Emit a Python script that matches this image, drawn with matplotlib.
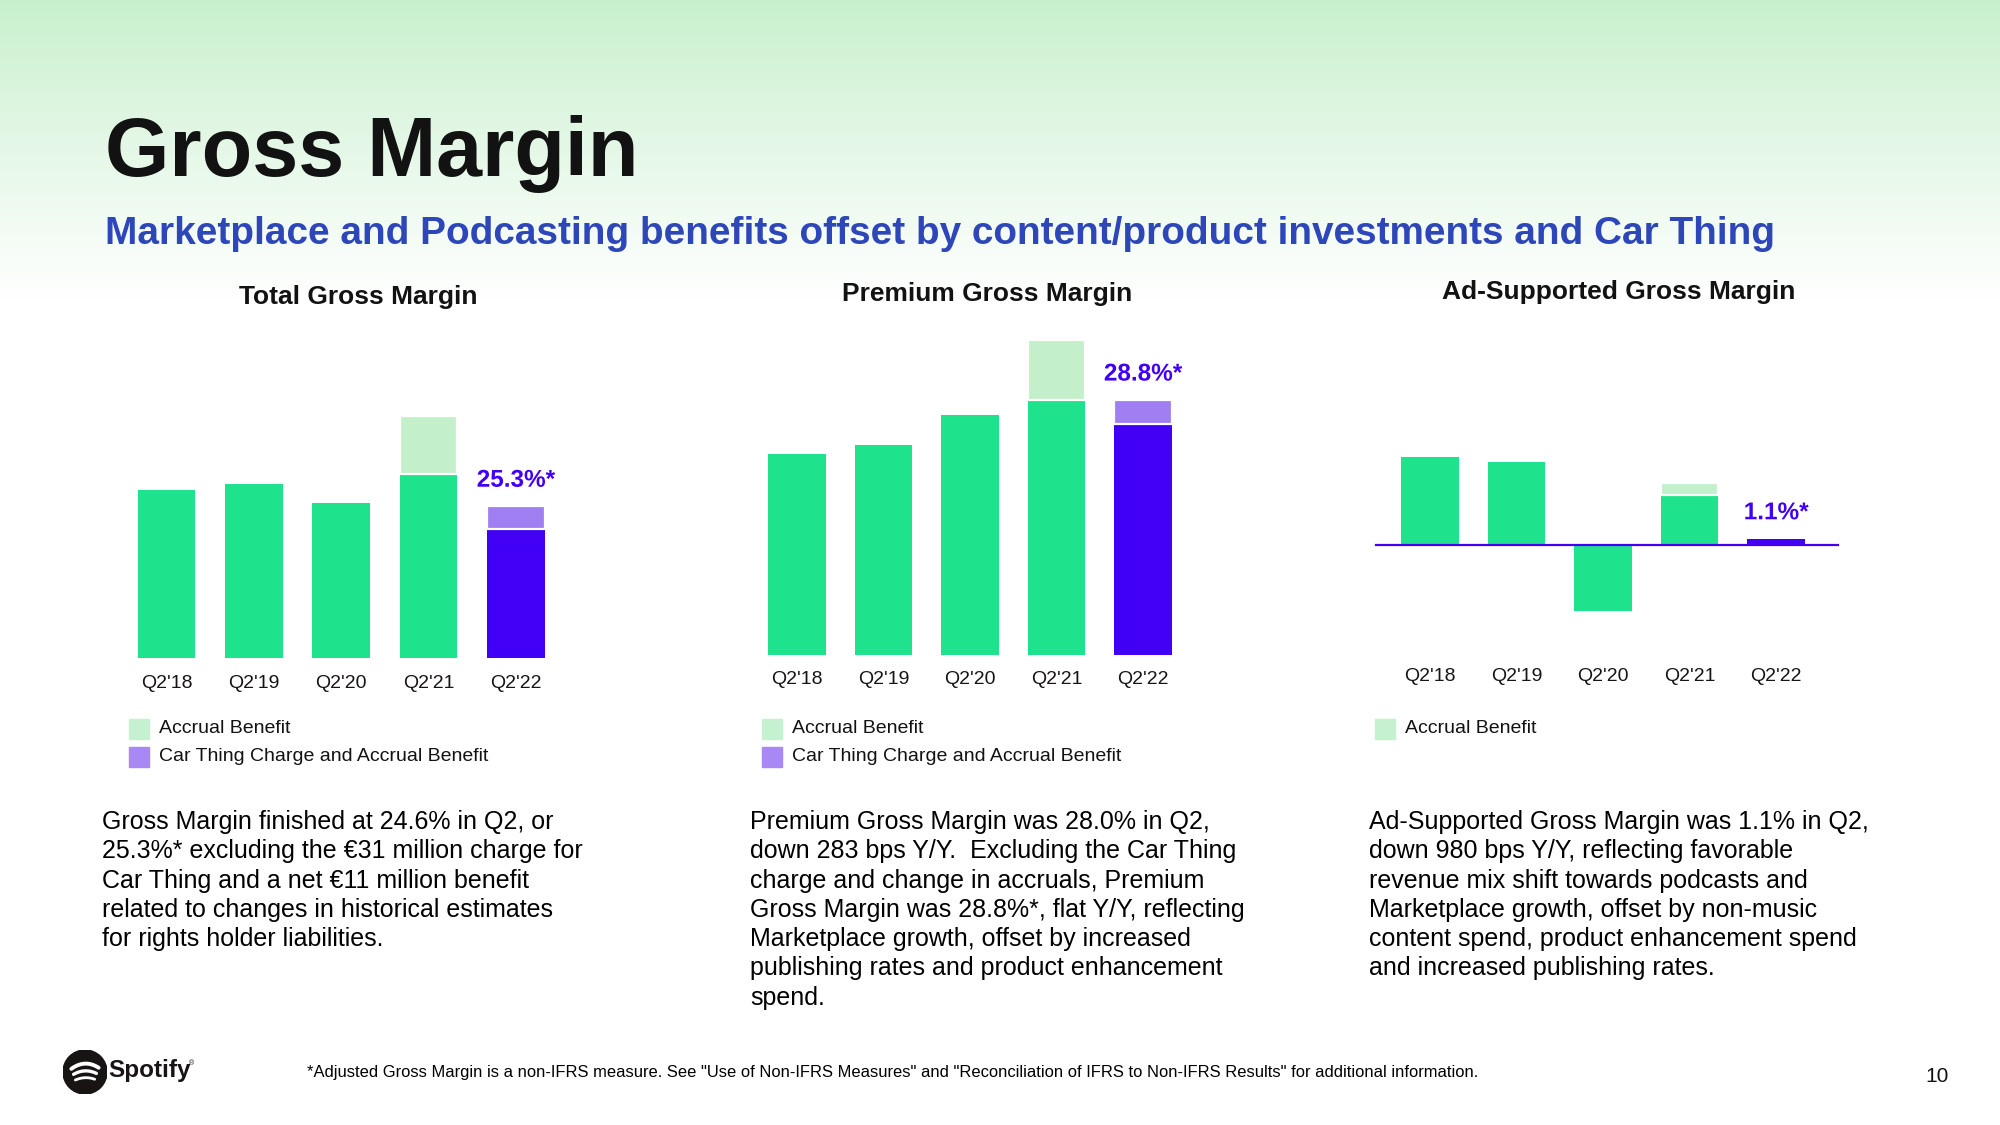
import numpy as np
import matplotlib
matplotlib.use("Agg")
import matplotlib.pyplot as plt
import matplotlib.patheffects as pe
from matplotlib.patches import Rectangle, Circle

plt.rcParams['font.family'] = ['Liberation Sans', 'DejaVu Sans']

# ---- data ----
quarters = ["Q2'18", "Q2'19", "Q2'20", "Q2'21", "Q2'22"]

# reported margin, % ; "top" includes the accrual / car-thing adjustment
total_base = [25.8, 26.0, 25.4, 26.3, 24.6]
total_top = [25.8, 26.0, 25.4, 28.1, 25.3]
premium_base = [27.0, 27.3, 28.3, 28.8, 28.0]
premium_top = [27.0, 27.3, 28.3, 30.8, 28.8]
adsup_base = [15.4, 14.6, -11.6, 8.8, 1.1]
adsup_top = [15.4, 14.6, -11.6, 10.9, 1.1]

total_label = "25.3%*"
premium_label = "28.8%*"
adsup_label = "1.1%*"

legend_both = ["Accrual Benefit", "Car Thing Charge and Accrual Benefit"]
legend_ad = ["Accrual Benefit"]

para_total = ["Gross Margin finished at 24.6% in Q2, or",
              "25.3%* excluding the \u20ac31 million charge for",
              "Car Thing and a net \u20ac11 million benefit",
              "related to changes in historical estimates",
              "for rights holder liabilities."]
para_premium = ["Premium Gross Margin was 28.0% in Q2,",
                "down 283 bps Y/Y.  Excluding the Car Thing",
                "charge and change in accruals, Premium",
                "Gross Margin was 28.8%*, flat Y/Y, reflecting",
                "Marketplace growth, offset by increased",
                "publishing rates and product enhancement",
                "spend."]
para_ad = ["Ad-Supported Gross Margin was 1.1% in Q2,",
           "down 980 bps Y/Y, reflecting favorable",
           "revenue mix shift towards podcasts and",
           "Marketplace growth, offset by non-music",
           "content spend, product enhancement spend",
           "and increased publishing rates."]

footnote = ('*Adjusted Gross Margin is a non-IFRS measure. See "Use of Non-IFRS Measures" and '
            '"Reconciliation of IFRS to Non-IFRS Results" for additional information.')

# ---- colours ----
GREEN = '#1EE38C'
ACCRUAL = '#C3F0CB'
BLUE = '#4100F5'
PURPLE = '#A07FF2'
INK = '#121212'
SUB = '#2D46B9'

W, H = 2000, 1125
fig = plt.figure(figsize=(20, 11.25), dpi=100)


def px_axes(left, top, right, bottom, **kw):
    return fig.add_axes([left / W, 1 - bottom / H, (right - left) / W, (bottom - top) / H], **kw)


def ftext(x, y, s, **kw):
    return fig.text(x / W, 1 - y / H, s, **kw)


def fit_width(t, target):
    r = fig.canvas.get_renderer()
    w = t.get_window_extent(r).width
    t.set_fontsize(t.get_fontsize() * target / w)


# background gradient
bg = px_axes(0, 0, W, H, zorder=-10)
rows = np.arange(H)
t = np.clip(rows / 300.0, 0, 1) ** 0.9
top_rgb = np.array([0.78, 0.94, 0.80])
grad = top_rgb[None, :] * (1 - t[:, None]) + np.ones(3)[None, :] * t[:, None]
bg.imshow(grad[:, None, :], aspect='auto', extent=[0, 1, 0, 1])
bg.axis('off')

# titles
tt = ftext(105, 176, "Gross Margin", fontsize=60, fontweight='bold', color=INK, va='baseline')
fit_width(tt, 533)
st = ftext(105, 244, "Marketplace and Podcasting benefits offset by content/product investments and Car Thing",
           fontsize=28, fontweight='bold', color=SUB, va='baseline')
fit_width(st, 1671)


def draw_chart(ax, base, top, label, seg_colors, pad, ylim):
    x = np.arange(len(quarters))
    colors = [GREEN] * (len(quarters) - 1) + [BLUE]
    ax.bar(x, base, width=0.66, color=colors, zorder=2)
    diff = np.array(top) - np.array(base)
    for i, d in enumerate(diff):
        if d > 0:
            ax.bar(x[i], d, bottom=base[i], width=0.66, color=seg_colors[i],
                   edgecolor='white', linewidth=1.6, zorder=3)
    ann = ax.annotate(label, xy=(x[-1], max(top[-1], 0)), xytext=(0, 14), textcoords='offset points',
                      ha='center', va='baseline', fontsize=17.5, fontweight='bold', color=BLUE,
                      annotation_clip=False)
    ann.set_path_effects([pe.withStroke(linewidth=3, foreground='white')])
    ax.set_xlim(-0.5, len(quarters) - 0.5)
    ax.set_ylim(*ylim)
    ax.set_xticks(x)
    ax.set_xticklabels(quarters, fontsize=14, color='#191414')
    ax.tick_params(axis='x', length=0, pad=pad)
    ax.set_yticks([])
    for s in ax.spines.values():
        s.set_visible(False)
    ax.patch.set_alpha(0)


seg = [None, None, None, ACCRUAL, PURPLE]

ax1 = px_axes(123, 658 - 8 * 32.3, 559.5, 658)
draw_chart(ax1, total_base, total_top, total_label, seg, 12.0, (20.6, 28.6))

ax2 = px_axes(753.75, 325, 1186.25, 655)
draw_chart(ax2, premium_base, premium_top, premium_label, seg, 11.4, (20.3, 31.3))

ax3 = px_axes(1386.75, 402.5, 1819.25, 659)
draw_chart(ax3, adsup_base, adsup_top, adsup_label, [None, None, None, ACCRUAL, BLUE], 6.8, (-20, 25))
ax3.plot([-0.62, 4.72], [0, 0], color=BLUE, linewidth=1.6, clip_on=False, zorder=4)

# chart titles
for cx, cy, s in [(358, 304, "Total Gross Margin"), (987, 301, "Premium Gross Margin"),
                  (1619, 299, "Ad-Supported Gross Margin")]:
    ftext(cx, cy, s, fontsize=19, fontweight='bold', color=INK, ha='center', va='baseline')


# legends
def legend(x, labels, colors):
    for i, (lab, c) in enumerate(zip(labels, colors)):
        yc = 728.5 + i * 28
        fig.patches.append(Rectangle(((x) / W, 1 - (yc + 10) / H), 20 / W, 20 / H,
                                     transform=fig.transFigure, color=c))
        ftext(x + 30, yc, lab, fontsize=14, color=INK, va='center')


LEG_GREEN = '#C6F1D0'
LEG_PURPLE = '#A888F5'
legend(129, legend_both, [LEG_GREEN, LEG_PURPLE])
legend(762, legend_both, [LEG_GREEN, LEG_PURPLE])
legend(1375, legend_ad, [LEG_GREEN])

# commentary paragraphs
for x0, lines in [(102, para_total), (750, para_premium), (1369, para_ad)]:
    for i, line in enumerate(lines):
        ftext(x0, 829 + i * 29.3, line, fontsize=18, color='black', va='baseline')

# footer
fn = ftext(307, 1077, footnote, fontsize=11.5, color='black', va='baseline')
fit_width(fn, 1172)
ftext(1937, 1077, "10", fontsize=15, color=INK, ha='center', va='center')

# spotify mark
lg = px_axes(63, 1050, 107, 1094)
lg.set_xlim(-1, 1)
lg.set_ylim(-1, 1)
lg.set_aspect('equal')
lg.axis('off')
lg.add_patch(Circle((0, 0), 1, color='#191414'))
for yc, half, k, lw in [(0.38, 0.62, 0.55, 2.8), (0.05, 0.52, 0.5, 2.4), (-0.26, 0.44, 0.45, 2.0)]:
    xs = np.linspace(-half, half, 40)
    lg.plot(xs, yc - k * xs ** 2 + 0.04 * xs, color='white', linewidth=lw, solid_capstyle='round')
ftext(108, 1071, "Spotify", fontsize=17.5, fontweight='bold', color='#191414', va='center')
ftext(189, 1064, "\u00ae", fontsize=5, color='#191414', va='center')

fig.savefig('out.png', dpi=100)
